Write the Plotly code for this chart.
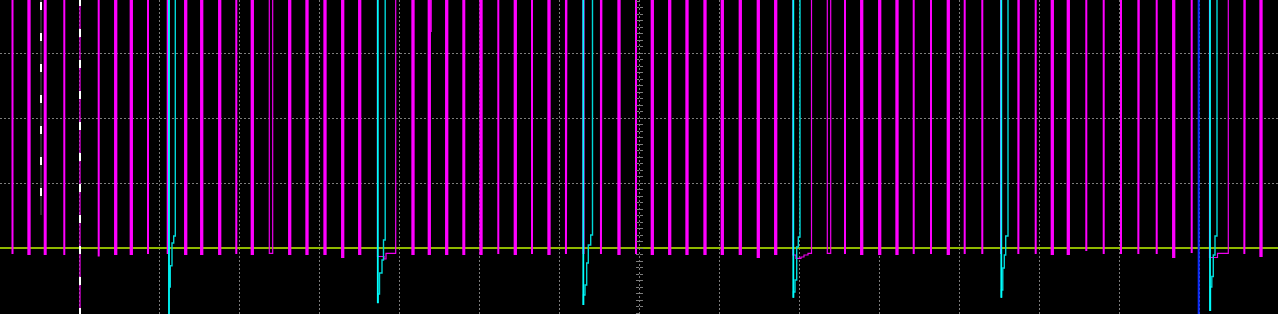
import plotly.graph_objects as go

# ---------------- data ----------------
# time axis: 80 units per division; amplitude axis: 65 units per division, 0 = trigger level
HIGH = 400.0     # logic-high level (above the visible window)
FLOOR = -150.0   # below the visible window

# CH (magenta) regular low-going pulses: centre time, duration, low level
pulse_t = [12.5, 29.0, 45.2, 64.3, 98.7, 115.7, 131.3, 148.0, 167.7, 185.7, 201.7, 219.7, 236.3, 252.3,
           289.7, 307.0, 325.0, 342.7, 359.7, 413.0, 429.3, 446.7, 463.8, 481.0, 498.3,
           515.3, 532.0, 549.0, 566.3, 583.5, 601.3, 619.0, 636.0, 652.3, 669.7, 687.0, 705.0, 722.3, 740.3, 758.3,
           775.7, 845.0, 861.7, 879.7, 897.0, 913.7, 931.0, 948.3, 964.7, 982.3, 1001.0, 1018.7,
           1035.7, 1052.3, 1068.3, 1086.3, 1103.7, 1121.0, 1138.7, 1156.7, 1173.7, 1191.7, 1244.7, 1261.0]
pulse_dur = [0, 1.3, 1.0, 0, 0, 1.3, 1.3, 0, 0, 1.3, 1.3, 1.3, 0, 1.3,
             1.3, 1.3, 1.3, 1.3, 1.3, 1.3, 1.3, 1.3, 1.0, 1.3, 0,
             1.3, 0, 1.3, 0.7, 0, 0.7, 1.3, 0, 1.3, 1.3, 1.3, 1.3, 1.3, 1.3, 1.3,
             1.3, 0, 1.3, 1.3, 1.3, 0, 0, 1.3, 0, 0, 0, 0.7,
             0, 1.3, 1.3, 0, 0, 0, 0.7, 0, 1.3, 0, 0.7, 1.3]
pulse_low = [-6, -6, -6, -7, -8.5, -6, -6, -6, -6, -6, -6, -6, -6, -6,
             -6, -6, -6, -9, -6, -6, -6, -6, -6, -6, -6,
             -6, -6, -6, -6, -6, -6, -6, -6, -6, -6, -6, -6, -6, -6, -9,
             -6, -6, -6, -6, -6, -6, -6, -6, -6, -6, -6, -6,
             -6, -6, -6, -3, -6, -6, -6, -6, -9, -5, -6, -8]

# magenta irregular pulses (step transitions and the level after each transition)
irr_t = [[269.3, 272.7], [827.3, 830.7], [377.5, 384, 386, 395.7],
         [793, 796, 801, 804, 808, 811.5], [1209.5, 1217.5, 1228.3], [431.2, 431.4], [80.0, 80.0]]
irr_lvl = [[-5.3, HIGH], [-5.3, HIGH], [-8.5, -11, -5.3, HIGH],
           [-7, -10.3, -9, -7, -5.3, HIGH], [-9.5, -5.3, HIGH], [216, HIGH], [FLOOR, HIGH]]

# cyan: fast edge through the screen, and a staircase recovery
cyan_edge_t = [169.0, 377.8, 583.3, 793.3, 1001.3, 1210.0]
cyan_edge_low = [FLOOR, -55.3, -57.0, -49.7, -49.7, -63.0]
cyan_step_t = [[175.3, 173.7, 172.0, 170.3],
               [385.2, 383.5, 382.0, 379.5, 378.0],
               [592.5, 590.7, 588.3, 586.7, 585.0, 583.5],
               [800.0, 798.3, 796.7, 795.0, 793.5],
               [1008.0, 1005.7, 1004.3, 1002.8, 1001.5],
               [1217.0, 1215.0, 1213.3, 1211.8, 1210.5]]
cyan_step_lvl = [[12, 5, -17.7, -39.7],
                 [8, -12, -25, -46, -55],
                 [13, 3, -15, -37, -47, -57],
                 [11, 1, -32, -44, -49.7],
                 [12, -7, -20, -42, -49.7],
                 [12, -7, -28.5, -39, -63]]

# cursors
blue_cursor_t = 1198.7
white_cursor_t = [41.0, 80.0]
white_cursor_top = [246.0, 250.0]
white_cursor_bottom = [33.0, FLOOR]

X_RANGE = [0, 1278]
Y_RANGE = [-66, 248]


def pulse_wave(ts, durs, lows):
    xs, ys = [], []
    for t, d, lo in zip(ts, durs, lows):
        a, b = t - d / 2.0, t + d / 2.0
        xs += [a, a, b, b]
        ys += [HIGH, lo, lo, HIGH]
    return xs, ys


def step_wave(ts, lvls, start=HIGH):
    xs, ys = [], []
    prev = start
    for t, lv in zip(ts, lvls):
        xs += [t, t]
        ys += [prev, lv]
        prev = lv
    return xs, ys


def join(segs):
    xs, ys = [], []
    for sx, sy in segs:
        xs += sx + [None]
        ys += sy + [None]
    return xs, ys


fig = go.Figure()

mx, my = pulse_wave(pulse_t, pulse_dur, pulse_low)
fig.add_trace(go.Scatter(x=mx, y=my, mode="lines", line=dict(color="#ff00ff", width=2),
                         hoverinfo="skip", showlegend=False))

ix, iy = join([step_wave(t, l) for t, l in zip(irr_t, irr_lvl)])
fig.add_trace(go.Scatter(x=ix, y=iy, mode="lines", line=dict(color="#ee00ee", width=1.2),
                         hoverinfo="skip", showlegend=False))

# cyan staircases
sx, sy = join([step_wave(t, l) for t, l in zip(cyan_step_t, cyan_step_lvl)])
fig.add_trace(go.Scatter(x=sx, y=sy, mode="lines", line=dict(color="#00d8d8", width=1.4),
                         hoverinfo="skip", showlegend=False))
# cyan edges
ex, ey = join([([t, t], [HIGH, lo]) for t, lo in zip(cyan_edge_t, cyan_edge_low)])
fig.add_trace(go.Scatter(x=ex, y=ey, mode="lines", line=dict(color="#00ffff", width=1.8),
                         hoverinfo="skip", showlegend=False))

# blue cursor (on the overlay axis that carries the centre-axis inside ticks)
fig.add_trace(go.Scatter(x=[blue_cursor_t, blue_cursor_t], y=[HIGH, FLOOR], mode="lines",
                         line=dict(color="#0a2cff", width=2), yaxis="y2",
                         hoverinfo="skip", showlegend=False))

# white dashed cursors (grey underlay on the first)
fig.add_trace(go.Scatter(x=[white_cursor_t[0], white_cursor_t[0]],
                         y=[white_cursor_top[0] + 10, white_cursor_bottom[0]], mode="lines",
                         line=dict(color="#585858", width=1), hoverinfo="skip", showlegend=False))
for t, top, bot in zip(white_cursor_t, white_cursor_top, white_cursor_bottom):
    fig.add_trace(go.Scatter(x=[t, t], y=[top, bot], mode="lines",
                             line=dict(color="#ffffff", width=2, dash="8px,23px"),
                             hoverinfo="skip", showlegend=False))

grid = "#7c7c7c"
fig.update_layout(
    width=1278, height=314,
    margin=dict(l=0, r=0, t=0, b=0),
    paper_bgcolor="#000000", plot_bgcolor="#000000",
    showlegend=False,
    xaxis=dict(range=X_RANGE, showgrid=True, gridcolor=grid, griddash="2px,2px", gridwidth=1,
               tick0=-1, dtick=80, zeroline=False, showticklabels=False, ticks="",
               showline=False, fixedrange=True),
    yaxis=dict(range=Y_RANGE, showgrid=True, gridcolor=grid, griddash="2px,2px", gridwidth=1,
               tick0=0, dtick=65, zeroline=True, zerolinecolor="#8fb800", zerolinewidth=1.6,
               showticklabels=False, ticks="outside", ticklen=3, tickcolor=grid,
               minor=dict(dtick=6.5, tick0=0, ticks="outside", ticklen=3, tickcolor=grid, showgrid=False),
               anchor="free", position=0.5, showline=False, fixedrange=True),
    yaxis2=dict(range=Y_RANGE, overlaying="y", anchor="free", position=0.5, showgrid=False,
                zeroline=False, showticklabels=False, ticks="inside", ticklen=3, tickcolor=grid,
                tick0=0, dtick=6.5, showline=False, fixedrange=True),
)

fig.write_html("out.html", config={"displayModeBar": False})
